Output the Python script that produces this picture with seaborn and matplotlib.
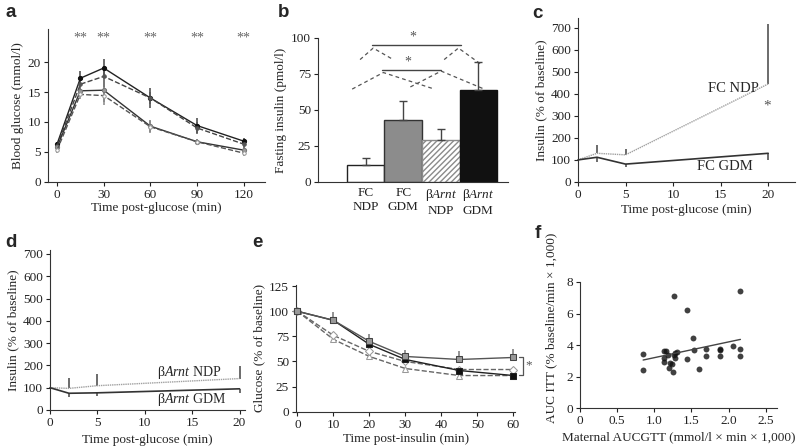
import numpy as np
import pandas as pd
import seaborn as sns
import matplotlib.pyplot as plt

# ---- a: glucose tolerance test
a_time = [0, 15, 30, 60, 90, 120]
a_fc_gdm = [6.3, 17.3, 19.0, 14.0, 9.4, 6.8]
a_fc_gdm_err = [0.3, 1.2, 1.5, 1.6, 1.2, 0.6]
a_arnt_gdm = [6.0, 16.3, 17.6, 14.0, 9.0, 6.3]
a_arnt_gdm_err = [0.3, 1.0, 1.8, 1.0, 1.0, 0.6]
a_fc_ndp = [5.8, 15.2, 15.3, 9.3, 6.7, 5.3]
a_fc_ndp_err = [0.4, 0.8, 2.0, 1.0, 0.4, 0.5]
a_arnt_ndp = [5.3, 14.6, 14.4, 9.2, 6.7, 4.8]
a_arnt_ndp_err = [0.4, 0.8, 1.5, 1.0, 0.4, 0.5]
a_star_time = [15, 30, 60, 90, 120]

# ---- b: fasting insulin
b_groups = ['FC\nNDP', 'FC\nGDM', 'β$\\mathit{Arnt}$\nNDP', 'β$\\mathit{Arnt}$\nGDM']
b_means = [12, 43, 29, 64]
b_err = [4.5, 13.5, 8, 19]
b_sig_lines = [(0.17, 2.55, 95), (0.44, 2.01, 77.7)]
b_tents = [([-0.15, 0.2, 0.7], [85, 93, 85.5]),
           ([2.09, 2.47, 3.11], [85, 93, 81]),
           ([-0.36, 0.47, 1.77], [64.5, 76, 65]),
           ([1.19, 2.01, 3.11], [66, 77, 65])]

# ---- c / d: insulin secretion
cd_time = [0, 2, 5, 20]
c_ndp = [100, 130, 123, 445]
c_ndp_err = [0, 36, 28, 270]
c_gdm = [100, 112, 81, 130]
c_gdm_err = [0, 21, 11, 31]
d_ndp = [100, 97, 109, 141]
d_ndp_err = [0, 48, 51, 57]
d_gdm = [100, 75, 77, 95]
d_gdm_err = [0, 15, 14, 20]

# ---- e: insulin tolerance test
e_time = [0, 10, 20, 30, 45, 60]
e_fc_gdm = [100, 91, 70, 55, 52, 54]
e_fc_gdm_err = [0, 8, 7, 6, 8, 8]
e_arnt_gdm = [100, 91, 67, 52, 41, 36]
e_arnt_gdm_err = [0, 3, 5, 4, 3, 2]
e_fc_ndp = [100, 76, 60, 50, 42, 42]
e_fc_ndp_err = [0, 4, 4, 3, 3, 2]
e_arnt_ndp = [100, 72, 55, 43, 36, 36]
e_arnt_ndp_err = [0, 4, 4, 3, 3, 2]
e_bracket = [37, 54]

# ---- f: AUC correlation
f_aucgtt = [0.85, 0.85, 1.13, 1.16, 1.13, 1.13, 1.18, 1.21, 1.20, 1.24, 1.25,
            1.27, 1.28, 1.30, 1.28, 1.27, 1.44, 1.44, 1.52, 1.54, 1.60, 1.69,
            1.69, 1.88, 1.88, 1.89, 2.06, 2.16, 2.16, 2.16]
f_aucitt = [3.43, 2.43, 3.64, 3.60, 3.17, 2.96, 3.39, 2.86, 2.54, 2.79, 2.29,
            3.39, 3.53, 3.56, 3.17, 7.13, 6.24, 3.11, 4.44, 3.68, 2.50, 3.77,
            3.28, 3.77, 3.66, 3.28, 3.92, 7.41, 3.75, 3.28]

sns.set_style('ticks')
plt.rcParams['font.family'] = ['Liberation Serif', 'DejaVu Serif']
plt.rcParams['mathtext.fontset'] = 'custom'
plt.rcParams['mathtext.rm'] = 'Liberation Serif'
plt.rcParams['mathtext.it'] = 'Liberation Serif:italic'
plt.rcParams['font.size'] = 9.5
plt.rcParams['axes.linewidth'] = 0.8
plt.rcParams['axes.edgecolor'] = '#333333'
plt.rcParams['hatch.linewidth'] = 1.0

fig = plt.figure(figsize=(8, 4.47), dpi=100)
ax_a = fig.add_axes([0.060, 0.593, 0.271, 0.342])
ax_b = fig.add_axes([0.3975, 0.593, 0.2375, 0.322])
ax_c = fig.add_axes([0.7225, 0.593, 0.271, 0.367])
ax_d = fig.add_axes([0.0625, 0.0828, 0.244, 0.358])
ax_e = fig.add_axes([0.370, 0.079, 0.274, 0.283])
ax_f = fig.add_axes([0.725, 0.0866, 0.246, 0.2826])

for ax in [ax_a, ax_b, ax_c, ax_d, ax_e, ax_f]:
    sns.despine(ax=ax)
    ax.tick_params(direction='out', length=3, width=0.8, pad=2, labelsize=9.5, colors='#222222')


def series(ax, x, y, color, ls='-', marker=None, mfc=None, mec=None, ms=4, lw=1.0, z=2):
    sns.lineplot(x=x, y=y, ax=ax, color=color, linestyle=ls, marker=marker,
                 markerfacecolor=mfc, markeredgecolor=mec, markersize=ms,
                 linewidth=lw, zorder=z, clip_on=False)


def errs(ax, x, y, e, up=True, down=True, color='#555555', lw=1.1):
    y = np.array(y, dtype=float)
    e = np.array(e, dtype=float)
    lo = y - e if down else y
    hi = y + e if up else y
    ax.vlines(x, lo, hi, color=color, linewidth=lw, zorder=1, clip_on=False)


# ---------------- a
series(ax_a, a_time, a_fc_gdm, '#222222', '-', 'o', '#111111', '#111111', 3)
series(ax_a, a_time, a_arnt_gdm, '#444444', '--', 'o', '#555555', '#555555', 2.5)
series(ax_a, a_time, a_fc_ndp, '#333333', '-', 'o', '#999999', '#777777', 3)
series(ax_a, a_time, a_arnt_ndp, '#555555', '--', 'o', 'white', '#999999', 2.5)
errs(ax_a, a_time, a_fc_gdm, a_fc_gdm_err, color='#444444')
errs(ax_a, a_time, a_arnt_gdm, a_arnt_gdm_err, color='#555555')
errs(ax_a, a_time, a_fc_ndp, a_fc_ndp_err, color='#777777')
errs(ax_a, a_time, a_arnt_ndp, a_arnt_ndp_err, color='#888888')
for t in a_star_time:
    ax_a.text(t, 24.0, '**', ha='center', va='center', fontsize=10, color='#666666')
ax_a.set_xlim(-5.8, 133.5)
ax_a.set_ylim(0, 25.5)
ax_a.set_xticks([0, 30, 60, 90, 120])
ax_a.set_yticks([0, 5, 10, 15, 20])
ax_a.set_xlabel('Time post-glucose (min)', labelpad=1)
ax_a.set_ylabel('Blood glucose (mmol/l)', labelpad=3)

# ---------------- b
b_df = pd.DataFrame({'group': b_groups, 'insulin': b_means})
sns.barplot(data=b_df, x='group', y='insulin', ax=ax_b, width=1.0,
            palette=['white', '#8c8c8c', 'white', '#111111'], hue='group', legend=False)
edge_cols = ['#222222', '#333333', '#8a8a8a', '#111111']
for i, p in enumerate(ax_b.patches):
    p.set_edgecolor(edge_cols[i])
    p.set_linewidth(1.0)
    if i == 2:
        p.set_hatch('//////')
ax_b.errorbar(range(len(b_means)), b_means, yerr=[np.zeros(len(b_err)), b_err], fmt='none',
              ecolor='#444444', elinewidth=1.0, capsize=3, capthick=1.0, zorder=3)
for x0, x1, yv in b_sig_lines:
    ax_b.plot([x0, x1], [yv, yv], color='#444444', lw=1.0, clip_on=False)
    ax_b.text((x0 + x1) / 2 - 0.1, yv + 0.8, '*', ha='center', va='bottom', fontsize=10, color='#555555')
for tx, ty in b_tents:
    ax_b.plot(tx, ty, color='#555555', lw=0.9, ls=(0, (3, 2.5)), clip_on=False)
ax_b.set_xlim(-1.27, 3.79)
ax_b.set_ylim(0, 100)
ax_b.set_yticks([0, 25, 50, 75, 100])
ax_b.tick_params(axis='x', length=0, pad=4)
ax_b.set_xlabel('')
ax_b.set_ylabel('Fasting insulin (pmol/l)', labelpad=3)

# ---------------- c
series(ax_c, cd_time, c_ndp, '#a0a0a0', (0, (1, 0.6)), lw=1.0)
series(ax_c, cd_time, c_gdm, '#333333', '-', lw=1.2)
errs(ax_c, cd_time, c_ndp, c_ndp_err, down=False, color='#444444')
errs(ax_c, cd_time, c_gdm, c_gdm_err, up=False, color='#444444')
ax_c.text(19, 423, 'FC NDP', ha='right', va='center', fontsize=10.5)
ax_c.text(18.4, 100, 'FC GDM', ha='right', va='top', fontsize=10.5)
ax_c.text(19.9, 345, '*', ha='center', va='center', fontsize=11, color='#555555')
ax_c.set_xlim(0, 22.8)
ax_c.set_ylim(0, 745)
ax_c.set_xticks([0, 5, 10, 15, 20])
ax_c.set_yticks(range(0, 701, 100))
ax_c.set_xlabel('Time post-glucose (min)', labelpad=2)
ax_c.set_ylabel('Insulin (% of baseline)', labelpad=3)

# ---------------- d
series(ax_d, cd_time, d_ndp, '#a0a0a0', (0, (1, 0.6)), lw=1.0)
series(ax_d, cd_time, d_gdm, '#333333', '-', lw=1.2)
errs(ax_d, cd_time, d_ndp, d_ndp_err, down=False, color='#444444')
errs(ax_d, cd_time, d_gdm, d_gdm_err, up=False, color='#444444')
ax_d.text(18.1, 166, 'β$\\mathit{Arnt}$ NDP', ha='right', va='center', fontsize=10)
ax_d.text(18.6, 45, 'β$\\mathit{Arnt}$ GDM', ha='right', va='center', fontsize=10)
ax_d.set_xlim(0, 20.6)
ax_d.set_ylim(0, 718)
ax_d.set_xticks([0, 5, 10, 15, 20])
ax_d.set_yticks(range(0, 701, 100))
ax_d.set_xlabel('Time post-glucose (min)', labelpad=4)
ax_d.set_ylabel('Insulin (% of baseline)', labelpad=3)

# ---------------- e
series(ax_e, e_time, e_arnt_ndp, '#666666', '--', '^', 'white', '#999999', 4.5, z=3)
series(ax_e, e_time, e_fc_ndp, '#666666', '--', 'D', 'white', '#999999', 4, z=3)
series(ax_e, e_time, e_arnt_gdm, '#222222', '-', 's', '#111111', '#222222', 4.5, z=4)
series(ax_e, e_time, e_fc_gdm, '#555555', '-', 's', '#999999', '#444444', 4.5, z=5)
errs(ax_e, e_time, e_fc_gdm, e_fc_gdm_err, down=False, color='#777777')
errs(ax_e, e_time, e_arnt_gdm, e_arnt_gdm_err, down=False, color='#333333')
errs(ax_e, e_time, e_fc_ndp, e_fc_ndp_err, up=False, color='#888888')
errs(ax_e, e_time, e_arnt_ndp, e_arnt_ndp_err, up=False, color='#888888')
ax_e.plot([61.6, 62.6, 62.6, 61.6], [e_bracket[1], e_bracket[1], e_bracket[0], e_bracket[0]],
          color='#555555', lw=0.9, clip_on=False)
ax_e.text(64.3, 46, '*', ha='center', va='center', fontsize=9.5, color='#555555')
ax_e.set_xlim(-0.4, 60.5)
ax_e.set_ylim(0, 126)
ax_e.set_xticks(range(0, 61, 10))
ax_e.set_yticks([0, 25, 50, 75, 100, 125])
ax_e.set_xlabel('Time post-insulin (min)', labelpad=2)
ax_e.set_ylabel('Glucose (% of baseline)', labelpad=3)

# ---------------- f
sns.regplot(x=f_aucgtt, y=f_aucitt, ax=ax_f, ci=None, truncate=True,
            scatter_kws={'s': 18, 'color': '#111111', 'marker': 'D', 'linewidths': 0},
            line_kws={'color': '#444444', 'lw': 1.0})
ax_f.set_xlim(0, 2.65)
ax_f.set_ylim(0, 8)
ax_f.set_xticks([0, 0.5, 1.0, 1.5, 2.0, 2.5])
ax_f.set_xticklabels(['0', '0.5', '1.0', '1.5', '2.0', '2.5'])
ax_f.set_yticks([0, 2, 4, 6, 8])
ax_f.set_xlabel('Maternal AUCGTT (mmol/l × min × 1,000)', labelpad=3)
ax_f.set_ylabel('AUC ITT (% baseline/min × 1,000)')
ax_f.yaxis.set_label_coords(-0.115, 0.64)

# panel letters
for lx, ly, letter in [(5, 17, 'a'), (278, 17, 'b'), (532, 18, 'c'),
                       (5, 247, 'd'), (252, 247, 'e'), (535, 238, 'f')]:
    fig.text(lx / 800, 1 - ly / 447, letter, fontsize=13.5, fontweight='bold',
             family='Liberation Sans', va='baseline', ha='left')

fig.savefig('out.png', dpi=100)
